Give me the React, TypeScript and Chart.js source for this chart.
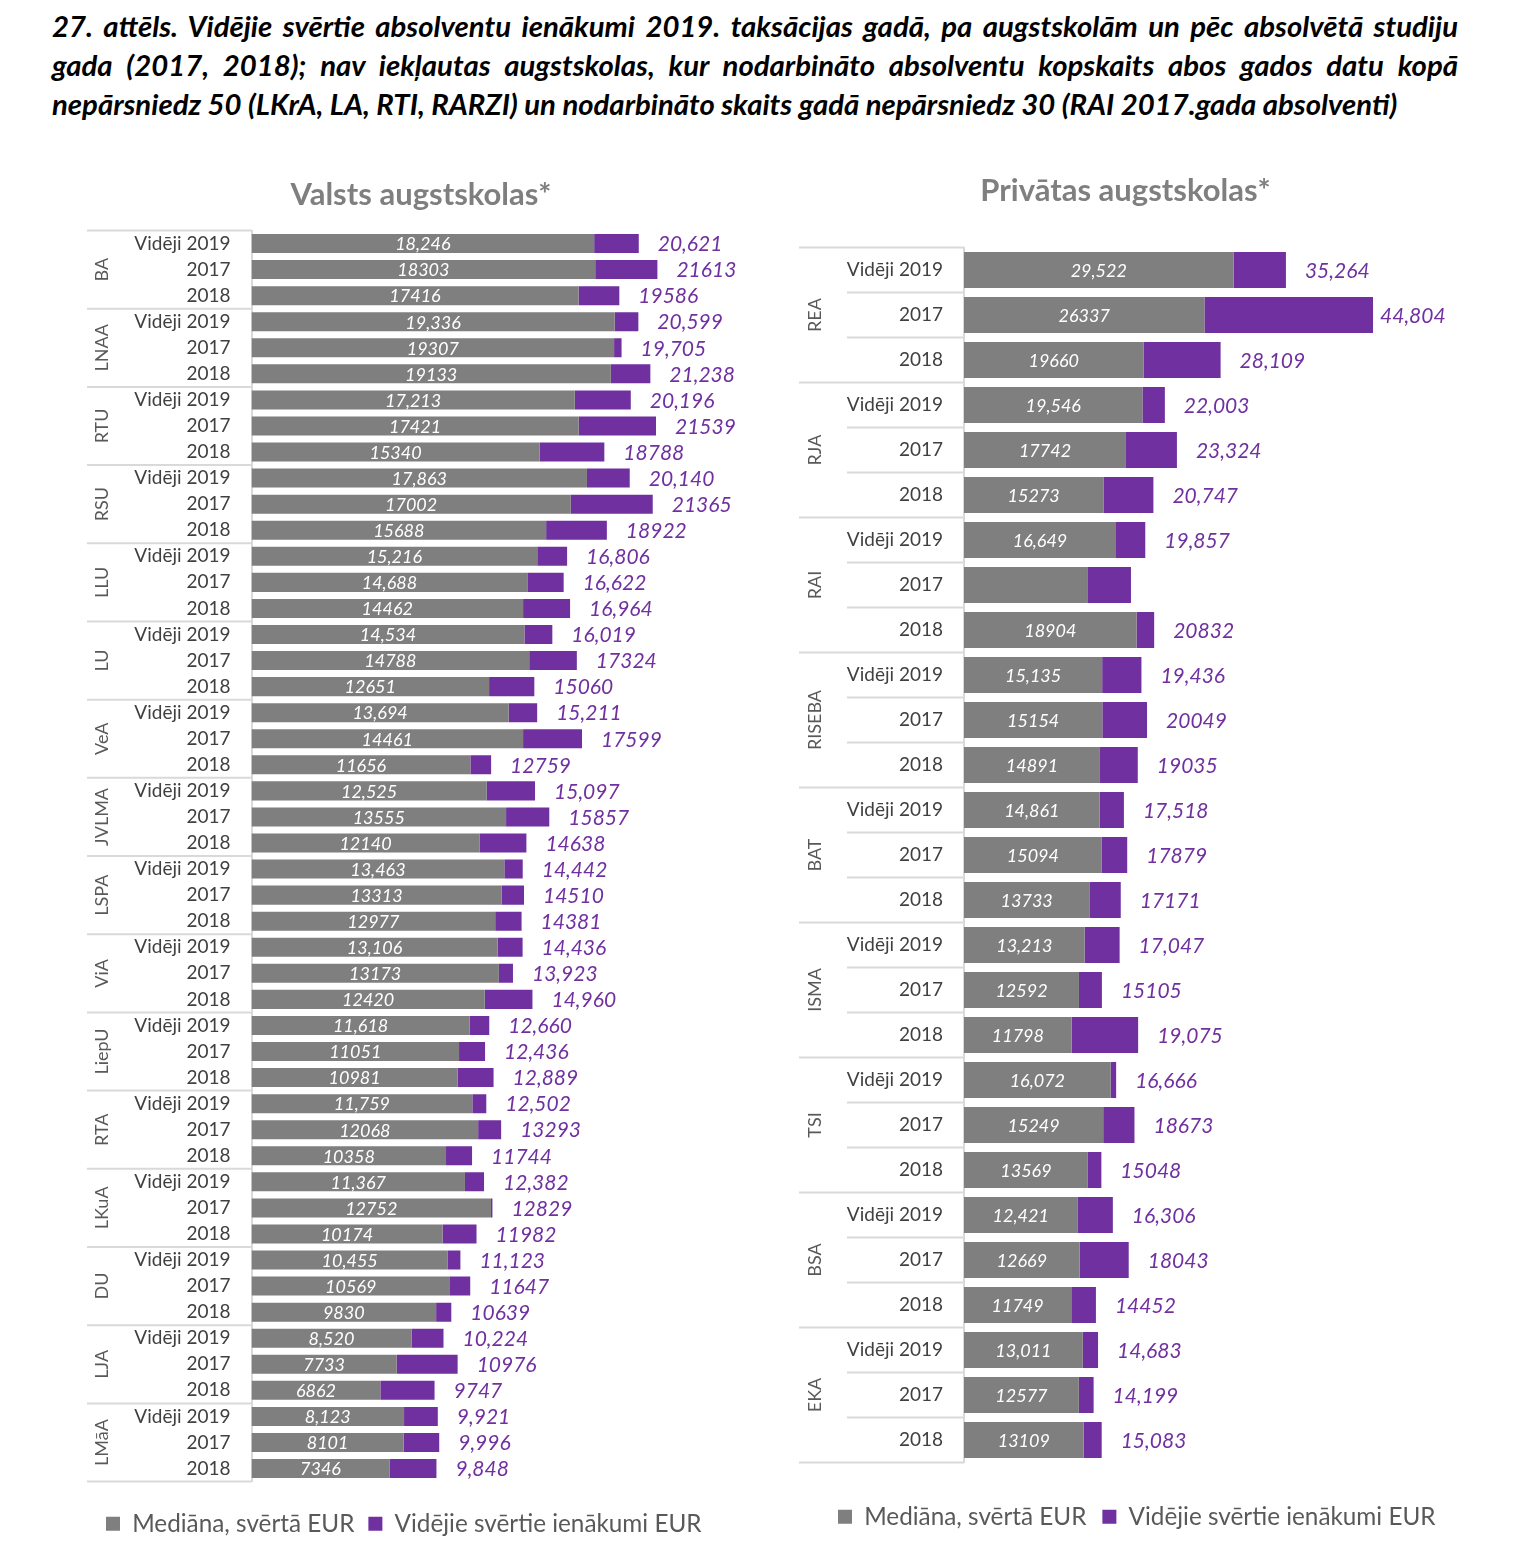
import React, { useEffect, useRef } from "react";
import { Chart, registerables } from "chart.js";

Chart.register(...registerables);

const FONT = "Lato, 'Open Sans', sans-serif";

const captionLines = [
  "27. attēls. Vidējie svērtie absolventu ienākumi 2019. taksācijas gadā, pa augstskolām un pēc absolvētā studiju",
  "gada (2017, 2018); nav iekļautas augstskolas, kur nodarbināto absolventu kopskaits abos gados datu kopā",
  "nepārsniedz 50 (LKrA, LA, RTI, RARZI) un nodarbināto skaits gadā nepārsniedz 30 (RAI 2017.gada absolventi)",
];

const legendLabels = ["Mediāna, svērtā EUR", "Vidējie svērtie ienākumi EUR"];
const rowLabels = ["Vidēji 2019", "2017", "2018"];

// ---------- Valsts augstskolas ----------
const valstsTitle = "Valsts augstskolas*";
const valstsUniversities = ["BA", "LNAA", "RTU", "RSU", "LLU", "LU", "VeA", "JVLMA", "LSPA", "ViA", "LiepU", "RTA", "LKuA", "DU", "LJA", "LMāA"];
const valstsMedian = [
  18246, 18303, 17416,
  19336, 19307, 19133,
  17213, 17421, 15340,
  17863, 17002, 15688,
  15216, 14688, 14462,
  14534, 14788, 12651,
  13694, 14461, 11656,
  12525, 13555, 12140,
  13463, 13313, 12977,
  13106, 13173, 12420,
  11618, 11051, 10981,
  11759, 12068, 10358,
  11367, 12752, 10174,
  10455, 10569, 9830,
  8520, 7733, 6862,
  8123, 8101, 7346,
];
const valstsAverage = [
  20621, 21613, 19586,
  20599, 19705, 21238,
  20196, 21539, 18788,
  20140, 21365, 18922,
  16806, 16622, 16964,
  16019, 17324, 15060,
  15211, 17599, 12759,
  15097, 15857, 14638,
  14442, 14510, 14381,
  14436, 13923, 14960,
  12660, 12436, 12889,
  12502, 13293, 11744,
  12382, 12829, 11982,
  11123, 11647, 10639,
  10224, 10976, 9747,
  9921, 9996, 9848,
];
// 1 = label printed with thousands separator
const valstsMedianComma = [
  1, 0, 0, 1, 0, 0, 1, 0, 0, 1, 0, 0,
  1, 1, 0, 1, 0, 0, 1, 0, 0, 1, 0, 0,
  1, 0, 0, 1, 0, 0, 1, 0, 0, 1, 0, 0,
  1, 0, 0, 1, 0, 0, 1, 0, 0, 1, 0, 0,
];
const valstsAverageComma = [
  1, 0, 0, 1, 1, 1, 1, 0, 0, 1, 0, 0,
  1, 1, 1, 1, 0, 0, 1, 0, 0, 1, 0, 0,
  1, 0, 0, 1, 1, 1, 1, 1, 1, 1, 0, 0,
  1, 0, 0, 1, 0, 0, 1, 0, 0, 1, 1, 1,
];
const valstsHiddenRows: number[] = [];

// ---------- Privātas augstskolas ----------
const privatasTitle = "Privātas augstskolas*";
const privatasUniversities = ["REA", "RJA", "RAI", "RISEBA", "BAT", "ISMA", "TSI", "BSA", "EKA"];
const privatasMedian = [
  29522, 26337, 19660,
  19546, 17742, 15273,
  16649, 13580, 18904,
  15135, 15154, 14891,
  14861, 15094, 13733,
  13213, 12592, 11798,
  16072, 15249, 13569,
  12421, 12669, 11749,
  13011, 12577, 13109,
];
const privatasAverage = [
  35264, 44804, 28109,
  22003, 23324, 20747,
  19857, 18290, 20832,
  19436, 20049, 19035,
  17518, 17879, 17171,
  17047, 15105, 19075,
  16666, 18673, 15048,
  16306, 18043, 14452,
  14683, 14199, 15083,
];
const privatasMedianComma = [
  1, 0, 0, 1, 0, 0, 1, 0, 0,
  1, 0, 0, 1, 0, 0, 1, 0, 0,
  1, 0, 0, 1, 0, 0, 1, 0, 0,
];
const privatasAverageComma = [
  1, 1, 1, 1, 1, 1, 1, 0, 0,
  1, 0, 0, 1, 0, 0, 1, 0, 1,
  1, 0, 0, 1, 0, 0, 1, 1, 1,
];
const privatasHiddenRows = [7]; // RAI 2017: no labels shown

type Panel = {
  title: string;
  universities: string[];
  median: number[];
  average: number[];
  medianComma: number[];
  averageComma: number[];
  hiddenRows: number[];
  canvasLeft: number;
  canvasTop: number;
  canvasWidth: number;
  canvasHeight: number;
  padLeft: number;
  padTop: number;
  yAxisWidth: number;
  xAxisHeight: number;
  pxPerUnit: number;
  barPercentage: number;
  legendPadding: number;
  titleX: number;
  titleY: number;
  groupLabelX: number;
  groupLineX: number;
  innerLineX: number | null;
  labelGap: number;
  labelGapOverride: Record<number, number>;
};

const LEGEND_FONT = 24.3;

const makePanel = (
  base: Omit<Panel, "canvasHeight" | "padTop" | "xAxisHeight">,
  areaTop: number,
  areaBottom: number,
  legendCenterY: number
): Panel => {
  const legendHeight = LEGEND_FONT + base.legendPadding + 10;
  const legendTop = legendCenterY - base.legendPadding - LEGEND_FONT / 2;
  const canvasBottom = legendTop + legendHeight;
  return {
    ...base,
    canvasHeight: Math.round(canvasBottom - base.canvasTop),
    padTop: areaTop - base.canvasTop,
    xAxisHeight: legendTop - areaBottom + (Math.round(canvasBottom - base.canvasTop) - (canvasBottom - base.canvasTop)),
  };
};

const valstsPanel = makePanel(
  {
    title: valstsTitle,
    universities: valstsUniversities,
    median: valstsMedian,
    average: valstsAverage,
    medianComma: valstsMedianComma,
    averageComma: valstsAverageComma,
    hiddenRows: valstsHiddenRows,
    canvasLeft: 84,
    canvasTop: 150,
    canvasWidth: 680,
    padLeft: 8,
    yAxisWidth: 159.5,
    pxPerUnit: 0.01878,
    barPercentage: 0.73,
    legendPadding: 14,
    titleX: 421,
    titleY: 195,
    groupLabelX: 102,
    groupLineX: 87,
    innerLineX: null,
    labelGap: 19,
    labelGapOverride: {},
  },
  230.5,
  230.5 + 48 * 26.064,
  1524
);

const privatasPanel = makePanel(
  {
    title: privatasTitle,
    universities: privatasUniversities,
    median: privatasMedian,
    average: privatasAverage,
    medianComma: privatasMedianComma,
    averageComma: privatasAverageComma,
    hiddenRows: privatasHiddenRows,
    canvasLeft: 790,
    canvasTop: 150,
    canvasWidth: 720,
    padLeft: 32,
    yAxisWidth: 142,
    pxPerUnit: 0.009129,
    barPercentage: 0.8,
    legendPadding: 16,
    titleX: 1125.5,
    titleY: 191,
    groupLabelX: 815,
    groupLineX: 799,
    innerLineX: 847,
    labelGap: 19,
    labelGapOverride: { 1: 7 },
  },
  247.5,
  247.5 + 27 * 45,
  1517
);

const fmt = (v: number, comma: number) =>
  comma ? v.toLocaleString("en-US") : String(v);

function makeDecor(p: Panel) {
  return {
    id: "panelDecor",
    afterDraw(chart: any) {
      const ctx: CanvasRenderingContext2D = chart.ctx;
      const area = chart.chartArea;
      const ys = chart.scales.y;
      const xs = chart.scales.x;
      const n = p.median.length;
      const rowPix = (i: number) => ys.getPixelForValue(i);
      const boundary = (k: number) =>
        k <= 0 ? area.top : k >= n ? area.bottom : (rowPix(k - 1) + rowPix(k)) / 2;
      ctx.save();
      // panel title
      ctx.font = `bold 31px ${FONT}`;
      ctx.fillStyle = "#7f7f7f";
      ctx.textAlign = "center";
      ctx.textBaseline = "middle";
      ctx.fillText(p.title, p.titleX - p.canvasLeft, p.titleY - p.canvasTop);
      // separator lines
      ctx.strokeStyle = "#d9d9d9";
      ctx.lineWidth = 2;
      for (let k = 0; k <= n; k++) {
        const isGroup = k % 3 === 0;
        if (!isGroup && p.innerLineX === null) continue;
        const xStart = (isGroup ? p.groupLineX : (p.innerLineX as number)) - p.canvasLeft;
        const yy = boundary(k);
        ctx.beginPath();
        ctx.moveTo(xStart, yy);
        ctx.lineTo(area.left, yy);
        ctx.stroke();
      }
      // group labels
      ctx.font = `18px ${FONT}`;
      ctx.fillStyle = "#595959";
      ctx.textAlign = "center";
      p.universities.forEach((u, g) => {
        const cy = rowPix(g * 3 + 1);
        ctx.save();
        ctx.translate(p.groupLabelX - p.canvasLeft, cy);
        ctx.rotate(-Math.PI / 2);
        ctx.fillText(u, 0, 0);
        ctx.restore();
      });
      // value labels
      const x0 = xs.getPixelForValue(0);
      for (let i = 0; i < n; i++) {
        if (p.hiddenRows.includes(i)) continue;
        const cy = rowPix(i);
        const xm = xs.getPixelForValue(p.median[i]);
        const xa = xs.getPixelForValue(p.average[i]);
        ctx.font = `italic 18px ${FONT}`;
        ctx.fillStyle = "#ffffff";
        ctx.textAlign = "center";
        ctx.fillText(fmt(p.median[i], p.medianComma[i]), (x0 + xm) / 2, cy + 1);
        ctx.font = `italic 21px ${FONT}`;
        ctx.fillStyle = "#7030a0";
        ctx.textAlign = "left";
        const gap = p.labelGapOverride[i] ?? p.labelGap;
        ctx.fillText(fmt(p.average[i], p.averageComma[i]), xa + gap, cy + 1);
      }
      ctx.restore();
    },
  };
}

function buildConfig(p: Panel): any {
  const areaLeft = p.canvasLeft + p.padLeft + p.yAxisWidth;
  const areaRight = p.canvasLeft + p.canvasWidth;
  const xMax = (areaRight - areaLeft) / p.pxPerUnit;
  const labels = p.universities.flatMap(() => rowLabels);
  return {
    type: "bar",
    data: {
      labels,
      datasets: [
        {
          label: legendLabels[0],
          data: p.median,
          backgroundColor: "#7f7f7f",
          barPercentage: p.barPercentage,
          categoryPercentage: 1,
        },
        {
          label: legendLabels[1],
          data: p.average.map((a, i) => a - p.median[i]),
          backgroundColor: "#7030a0",
          barPercentage: p.barPercentage,
          categoryPercentage: 1,
        },
      ],
    },
    options: {
      indexAxis: "y",
      responsive: false,
      maintainAspectRatio: false,
      animation: false,
      layout: { padding: { left: p.padLeft, top: p.padTop, right: 0, bottom: 0 } },
      scales: {
        x: {
          stacked: true,
          min: 0,
          max: xMax,
          display: true,
          grid: { display: false, drawTicks: false },
          border: { display: false },
          ticks: { display: false },
          afterFit: (s: any) => {
            s.height = p.xAxisHeight;
          },
        },
        y: {
          stacked: true,
          grid: { display: false, drawTicks: false },
          border: { display: true, color: "#d9d9d9", width: 2 },
          ticks: {
            autoSkip: false,
            padding: 21,
            color: "#404040",
            font: { family: FONT, size: 19 },
          },
          afterFit: (s: any) => {
            s.width = p.yAxisWidth;
          },
        },
      },
      plugins: {
        legend: {
          position: "bottom",
          align: "start",
          labels: {
            boxWidth: 14,
            boxHeight: 14,
            padding: p.legendPadding,
            color: "#595959",
            font: { family: FONT, size: LEGEND_FONT },
          },
        },
        title: { display: false },
        tooltip: { enabled: false },
      },
    },
    plugins: [makeDecor(p)],
  };
}

function PanelChart({ panel }: { panel: Panel }) {
  const ref = useRef<HTMLCanvasElement | null>(null);
  useEffect(() => {
    if (!ref.current) return;
    const chart = new Chart(ref.current, buildConfig(panel));
    return () => chart.destroy();
  }, [panel]);
  return (
    <canvas
      ref={ref}
      width={panel.canvasWidth}
      height={panel.canvasHeight}
      style={{
        position: "absolute",
        left: panel.canvasLeft,
        top: panel.canvasTop,
        width: panel.canvasWidth,
        height: panel.canvasHeight,
      }}
    />
  );
}

export default function App() {
  return (
    <div
      style={{
        position: "absolute",
        left: 0,
        top: 0,
        width: 1523,
        height: 1548,
        overflow: "hidden",
        background: "#ffffff",
      }}
    >
      <div
        style={{
          position: "absolute",
          left: 52,
          top: 5.5,
          width: 1406,
          fontFamily: FONT,
          fontWeight: "bold",
          fontStyle: "italic",
          fontSize: 29.3,
          lineHeight: "39px",
          color: "#000000",
        }}
      >
        {captionLines.map((line, i) => (
          <div
            key={i}
            style={{
              whiteSpace: "nowrap",
              textAlign: i < captionLines.length - 1 ? "justify" : "left",
              textAlignLast: i < captionLines.length - 1 ? "justify" : "left",
            }}
          >
            {line}
          </div>
        ))}
      </div>
      <PanelChart panel={valstsPanel} />
      <PanelChart panel={privatasPanel} />
    </div>
  );
}
